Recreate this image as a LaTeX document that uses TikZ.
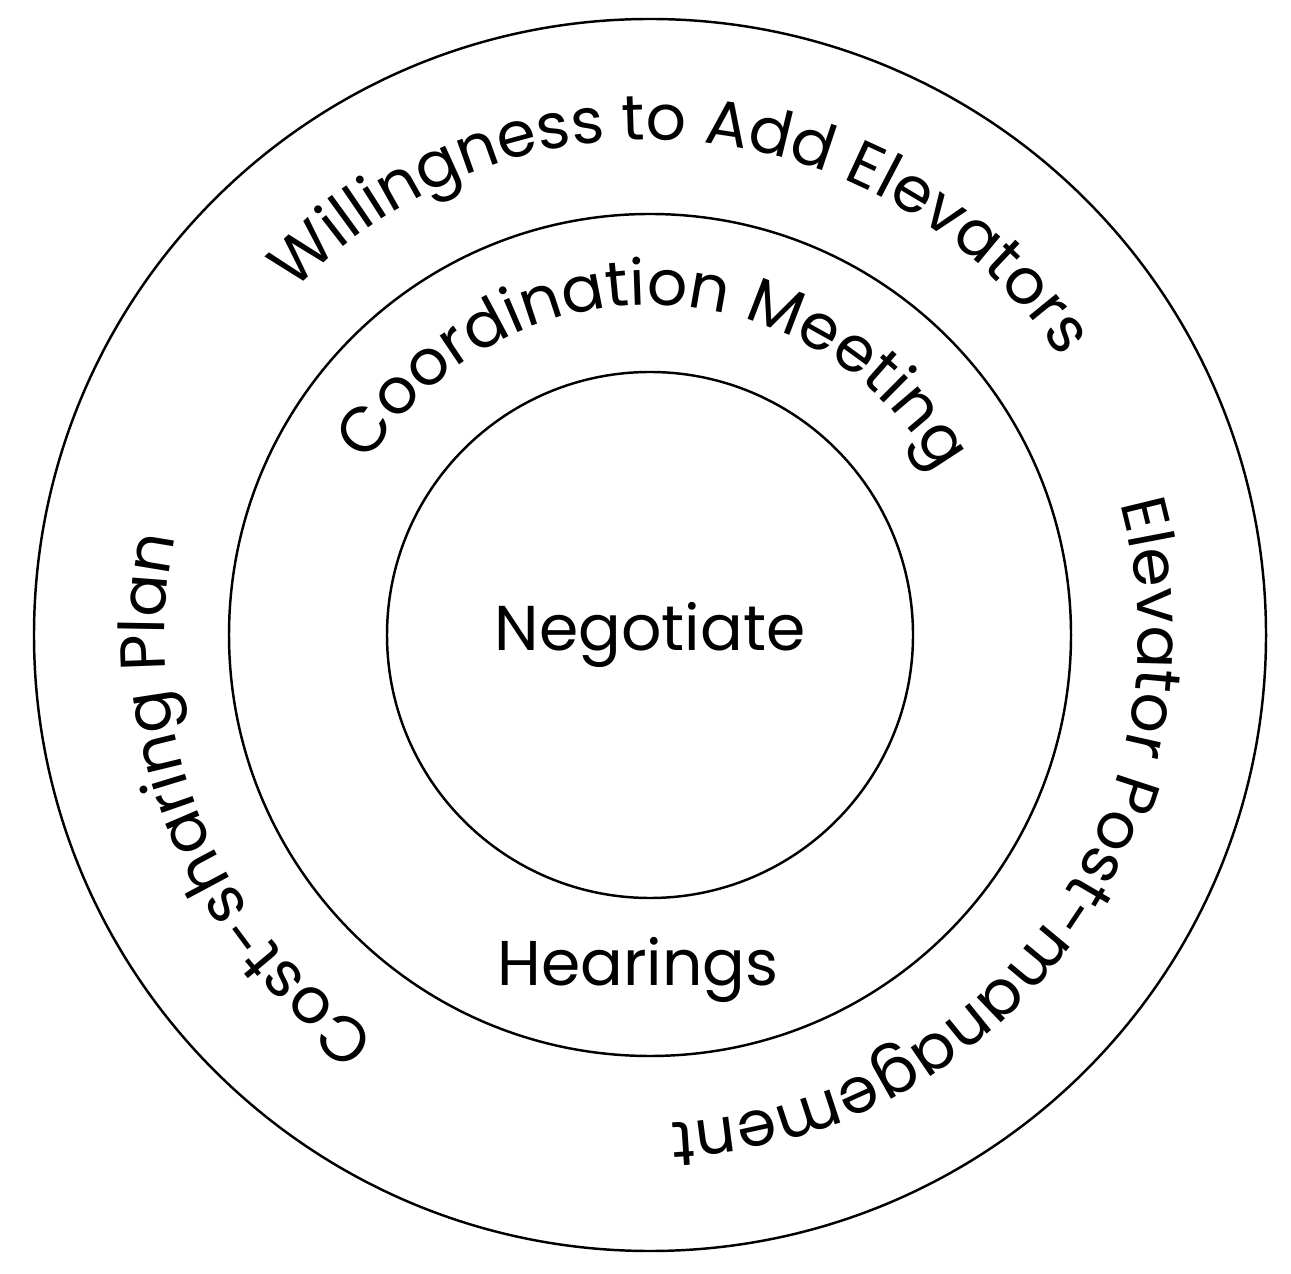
\documentclass[tikz,border=0pt]{standalone}
\usepackage{fontspec}
\setmainfont{Poppins}
\usetikzlibrary{decorations.text}
\tikzset{
  ring/.style={draw, circle, line width=0.7pt, inner sep=0pt},
  lbl/.style={font=\fontsize{18}{20}\selectfont},
  arclbl/.style={decorate, decoration={text along path, text align=center, text={#1}}}
}
\newcommand{\fs}{\fontsize{18}{20}\selectfont}
\begin{document}
\begin{tikzpicture}
\useasboundingbox (0,0) rectangle (12.91,12.73);
\coordinate (c) at (6.50,6.38);

\node[ring, minimum size=12.32cm] (outer) at (c) {};
\node[ring, minimum size=8.42cm] (middle) at (c) {};
\node[ring, minimum size=5.26cm] (inner) at (c) {};

\path (c) node[lbl] (negotiate) {Negotiate};
\path (6.38,3.03) node[lbl] (hearings) {Hearings};

% labels on the rings
\path[arclbl={|\fs|Willingness to Add Elevators}]
  (c) ++(160:4.95) arc[start angle=160, end angle=10, radius=4.95];
\path[arclbl={|\fs|Coordination Meeting}]
  (c) ++(165:3.30) arc[start angle=165, end angle=13, radius=3.30];
\path[arclbl={|\fs|Elevator Post-management}]
  (c) ++(35:4.88) arc[start angle=35, end angle=-107, radius=4.88];
\path[arclbl={|\fs|Cost-sharing Plan}]
  (c) ++(255:4.85) arc[start angle=255, end angle=149, radius=4.85];

\end{tikzpicture}
\end{document}
